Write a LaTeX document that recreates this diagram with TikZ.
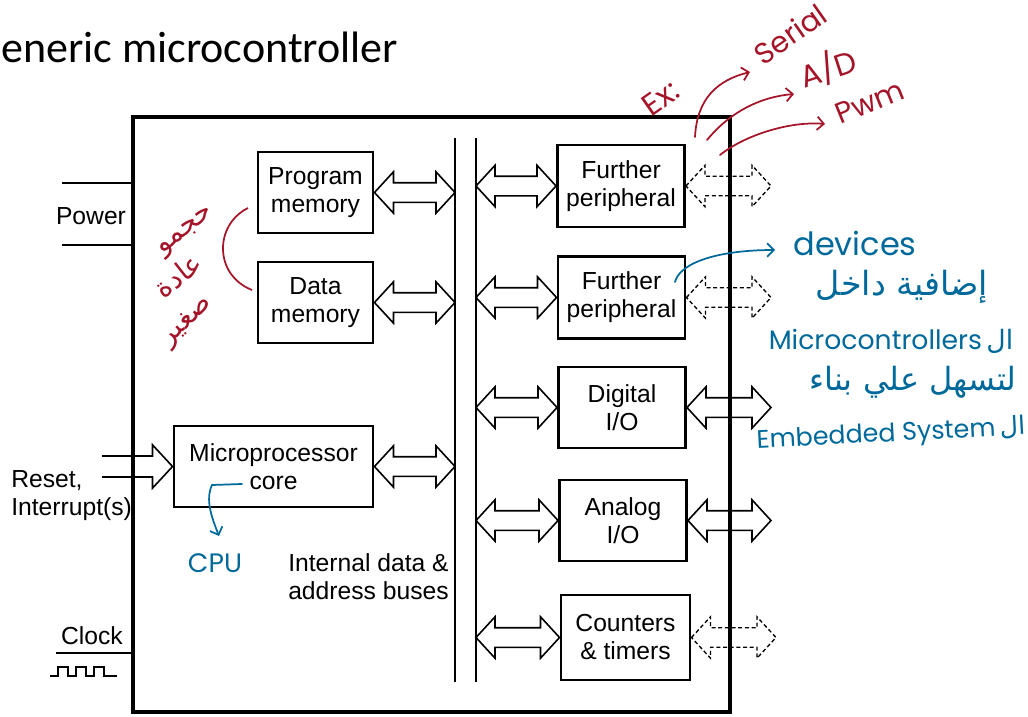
\documentclass[tikz,border=0pt]{standalone}
\usepackage{fontspec}
\setmainfont{Liberation Sans}
\newfontfamily\titlefont{Carlito}
\newfontfamily\hwfont{Poppins}
\newfontfamily\arabicfont[Script=Arabic]{DejaVu Sans}
\TeXXeTstate=1
\usetikzlibrary{calc,arrows.meta}
\definecolor{inkred}{RGB}{165,20,40}
\definecolor{inkblue}{RGB}{0,105,155}
\tikzset{
  blk/.style={draw, line width=2.2pt, align=center, inner sep=0pt, font=\fontsize{18.5}{21}\selectfont},
  lbl/.style={align=left, inner sep=0pt, font=\fontsize{18.5}{21}\selectfont},
  fatarr/.style={line width=1.2pt, line join=miter},
  dfat/.style={line width=1pt, line join=miter, dash pattern=on 3pt off 2pt},
  bus/.style={line width=1.6pt},
  wire/.style={line width=1.6pt},
  hwred/.style={inner sep=0pt, text=inkred},
  hwblue/.style={inner sep=0pt, text=inkblue},
  hwarr/.style={line width=1.3pt, line cap=round, -{Straight Barb[length=5pt,width=10pt]}},
}
% fat double-headed arrow between two points on one horizontal line
\newcommand\fatarrow[3][fatarr]{%
  \draw[#1] let \p1=(#2), \p2=(#3) in
    (\x1,\y1) -- (\x1+14.25pt,\y1+15.5pt) -- (\x1+14.25pt,\y1+7.35pt)
    -- (\x2-14.25pt,\y1+7.35pt) -- (\x2-14.25pt,\y1+15.5pt) -- (\x2,\y1)
    -- (\x2-14.25pt,\y1-15.5pt) -- (\x2-14.25pt,\y1-7.35pt)
    -- (\x1+14.25pt,\y1-7.35pt) -- (\x1+14.25pt,\y1-15.5pt) -- cycle;}
\begin{document}
\begin{tikzpicture}[x=0.75pt,y=-0.75pt]
\useasboundingbox (0,0) rectangle (1028,717);

% title
\node[anchor=base west, inner sep=0pt, font=\titlefont\fontsize{33}{36}\selectfont] (title) at (1,63) {eneric microcontroller};

% outer chip
\node[draw, line width=2.3pt, minimum width=447.75pt, minimum height=446.25pt, inner sep=0pt] (mcu) at (431.5,414.5) {};

% buses
\coordinate (busLt) at (455,138); \coordinate (busLb) at (455,682);
\coordinate (busRt) at (476,138); \coordinate (busRb) at (476,682);
\draw[bus] (busLt) -- (busLb);
\draw[bus] (busRt) -- (busRb);

% blocks
\node[blk, minimum width=86.25pt, minimum height=60.75pt] (pm) at (315.5,192.5) {Program\\memory};
\node[blk, minimum width=86.25pt, minimum height=60.75pt] (dm) at (315.5,302.5) {Data\\memory};
\node[blk, minimum width=149.25pt, minimum height=60.75pt] (mp) at (273.5,466.5) {Microprocessor\\core};
\node[blk, minimum width=95.25pt, minimum height=61.5pt] (fp1) at (621,186) {Further\\peripheral};
\node[blk, minimum width=95.25pt, minimum height=61.5pt] (fp2) at (621.5,297.5) {Further\\peripheral};
\node[blk, minimum width=95.25pt, minimum height=60.75pt] (dio) at (622,407.5) {Digital\\I/O};
\node[blk, minimum width=95.25pt, minimum height=60.75pt] (aio) at (623,520.5) {Analog\\I/O};
\node[blk, minimum width=96.75pt, minimum height=63.75pt] (ct) at (625.5,637.5) {Counters\\\& timers};

% fat arrows to the buses
\fatarrow{pm.east}{pm.east -| busLt}
\fatarrow{dm.east}{dm.east -| busLt}
\fatarrow{mp.east}{mp.east -| busLt}
\fatarrow{fp1.west -| busRt}{fp1.west}
\fatarrow{fp2.west -| busRt}{fp2.west}
\fatarrow{dio.west -| busRt}{dio.west}
\fatarrow{aio.west -| busRt}{aio.west}
\fatarrow{ct.west -| busRt}{ct.west}

% external arrows
\coordinate (ext) at (771,0);
\fatarrow[dfat]{fp1.east}{fp1.east -| ext}
\fatarrow[dfat]{fp2.east}{fp2.east -| ext}
\fatarrow{dio.east}{dio.east -| ext}
\fatarrow{aio.east}{aio.east -| ext}
\coordinate (extc) at (776,0);
\fatarrow[dfat]{ct.east}{ct.east -| extc}

% power
\coordinate (pw1) at (62,183); \coordinate (pw2) at (62,245);
\draw[wire] (pw1) -- (pw1 -| mcu.west);
\draw[wire] (pw2) -- (pw2 -| mcu.west);
\node[lbl] (power) at (91,216) {Power};

% reset / interrupt
\coordinate (rst) at (102,0);
\draw[fatarr] let \p1=(mp.west -| rst), \p2=(mp.west) in
  (\x1,\y1+7.9pt) -- (\x2-15pt,\y1+7.9pt) -- (\x2-15pt,\y1+16.2pt) -- (\x2,\y1)
  -- (\x2-15pt,\y1-16.2pt) -- (\x2-15pt,\y1-7.9pt) -- (\x1,\y1-7.9pt);
\node[lbl, anchor=west] (reset) at (11,496) {Reset,\\Interrupt(s)};

% clock
\coordinate (clk) at (56,653);
\draw[wire] (clk) -- (clk -| mcu.west);
\node[lbl] (clock) at (92,636) {Clock};
\draw[line width=1.3pt] (50,676) -- (58,676) -- (58,667) -- (68,667) -- (68,676) -- (76,676)
  -- (76,667) -- (86,667) -- (86,676) -- (94,676) -- (94,667) -- (104,667) -- (104,676) -- (117,676);

% bus label
\node[lbl, anchor=west] (buslbl) at (288,577) {Internal data \&\\address buses};

% ---- handwritten notes (red) ----
\node[hwred, rotate=35, font=\hwfont\fontsize{23}{26}\selectfont] (ex) at (661,98) {Ex:};
\node[hwred, rotate=35, font=\hwfont\fontsize{22}{24}\selectfont] (serial) at (790,34) {Serial};
\node[hwred, rotate=18, font=\hwfont\fontsize{23}{26}\selectfont] (ad) at (828,68) {A/D};
\node[hwred, rotate=22, font=\hwfont\fontsize{22}{26}\selectfont] (pwm) at (870,102) {Pwm};
\coordinate (s1) at (695,137); \coordinate (s2) at (707,140); \coordinate (s3) at (720,155);
\coordinate (t1) at (750,72); \coordinate (t2) at (794,94); \coordinate (t3) at (825,124);
\draw[hwarr, inkred] (s1) .. controls (697,98) and (718,80) .. (t1);
\draw[hwarr, inkred] (s2) .. controls (730,112) and (760,97) .. (t2);
\draw[hwarr, inkred] (s3) .. controls (745,135) and (790,121) .. (t3);

\draw[line width=1.3pt, inkred] (248,208) .. controls (214,225) and (214,275) .. (252,290);
\node[hwred, rotate=38, font=\arabicfont\fontsize{21}{24}\selectfont] (ar1) at (187,232) {\beginR حجمو\endR};
\node[hwred, rotate=38, font=\arabicfont\fontsize{21}{24}\selectfont] (ar2) at (178,275) {\beginR عادة\endR};
\node[hwred, rotate=44, font=\arabicfont\fontsize{21}{24}\selectfont] (ar3) at (188,322) {\beginR صغير\endR};

% ---- handwritten notes (blue) ----
\node[hwblue, font=\hwfont\fontsize{24}{26}\selectfont] (devices) at (855,243) {devices};
\coordinate (d0) at (675,282); \coordinate (d1) at (775,250);
\draw[hwarr, inkblue] (d0) .. controls (680,262) and (720,250) .. (d1);
\node[hwblue, font=\arabicfont\fontsize{25}{28}\selectfont] (bl1) at (902,287) {\beginR إضافية داخل\endR};
\node[hwblue, font=\hwfont\fontsize{20}{22}\selectfont] (bl2) at (891,341) {Microcontrollers\,{\arabicfont\beginR ال\endR}};
\node[hwblue, font=\arabicfont\fontsize{24}{28}\selectfont] (bl3) at (913,382) {\beginR لتسهل علي بناء\endR};
\node[hwblue, rotate=3, font=\hwfont\fontsize{19}{22}\selectfont] (bl4) at (891,435) {Embedded System\,{\arabicfont\beginR ال\endR}};

\node[hwblue, font=\hwfont\fontsize{20}{22}\selectfont] (cpu) at (215,563) {CPU};
\coordinate (c0) at (242,484);
\draw[hwarr, inkblue] (c0) -- (212,485) .. controls (205,500) and (212,518) .. (219,536);
\end{tikzpicture}
\end{document}
